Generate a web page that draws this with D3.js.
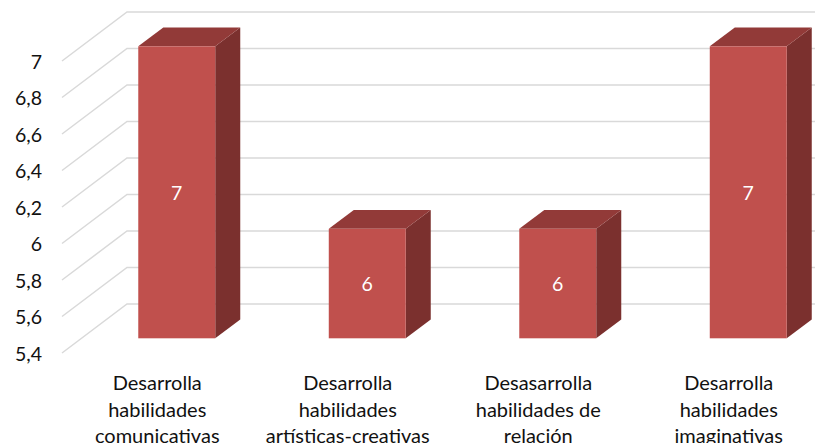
<!DOCTYPE html>
<html>
<head>
<meta charset="utf-8">
<script src="https://cdn.jsdelivr.net/npm/d3@7"></script>
<style>
  html, body { margin: 0; padding: 0; background: #ffffff; }
  svg { display: block; }
</style>
</head>
<body>
<svg id="chart" width="815" height="443"></svg>
<script>
// ---- Data ----
const categories = [
  "Desarrolla habilidades comunicativas",
  "Desarrolla habilidades artísticas-creativas",
  "Desasarrolla habilidades de relación",
  "Desarrolla habilidades imaginativas"
];
const categoryLines = [
  ["Desarrolla", "habilidades", "comunicativas"],
  ["Desarrolla", "habilidades", "artísticas-creativas"],
  ["Desasarrolla", "habilidades de", "relación"],
  ["Desarrolla", "habilidades", "imaginativas"]
];
const values = [7, 6, 6, 7];
const yTicks = [5.4, 5.6, 5.8, 6, 6.2, 6.4, 6.6, 6.8, 7];

// ---- Layout ----
const W = 815, H = 443;
const svg = d3.select("#chart");
const plotLeft = 62, band = 190.5;
const depth = { x: 65, y: -49 };   // back wall offset
const t1 = 0.3, t2 = 0.685;         // bar front / back depth fractions

const x = d3.scaleBand()
  .domain(categories)
  .range([plotLeft, plotLeft + band * categories.length])
  .padding(0);
const y = d3.scaleLinear().domain([5.4, 7]).range([353, 61]);
const barW = x.bandwidth() * 0.404;

const fmt = v => d3.format(".1~f")(v).replace(".", ",");

// ---- Gridlines (side wall diagonal + back wall horizontal) ----
const grid = svg.append("g").attr("fill", "none").attr("stroke", "#D9D9D9").attr("stroke-width", 1.5);
grid.selectAll("path").data(yTicks).join("path")
  .attr("d", v => {
    const y0 = y(v);
    return `M${plotLeft},${y0} L${plotLeft + depth.x},${y0 + depth.y} L${W + 5},${y0 + depth.y}`;
  });

// ---- Y tick labels ----
svg.append("g").selectAll("text").data(yTicks).join("text")
  .attr("x", 42)
  .attr("y", v => y(v))
  .attr("text-anchor", "end")
  .attr("dominant-baseline", "central")
  .attr("font-family", "Lato, 'Open Sans', sans-serif")
  .attr("font-size", 19.5)
  .attr("fill", "#111")
  .text(fmt);

// ---- 3D bars ----
const bars = svg.append("g");
categories.forEach((c, i) => {
  const v = values[i];
  const cx = x(c) + x.bandwidth() / 2;
  const fx0 = cx - barW / 2 + depth.x * t1, fx1 = fx0 + barW;
  const fyTop = y(v) + depth.y * t1, fyBot = y(5.4) + depth.y * t1;
  const dx = depth.x * (t2 - t1), dy = depth.y * (t2 - t1);
  const g = bars.append("g");
  // side face
  g.append("path")
    .attr("d", `M${fx1},${fyTop} L${fx1 + dx},${fyTop + dy} L${fx1 + dx},${fyBot + dy} L${fx1},${fyBot} Z`)
    .attr("fill", "#7B302E");
  // top face
  g.append("path")
    .attr("d", `M${fx0},${fyTop} L${fx0 + dx},${fyTop + dy} L${fx1 + dx},${fyTop + dy} L${fx1},${fyTop} Z`)
    .attr("fill", "#923A38");
  // front face
  g.append("rect")
    .attr("x", fx0).attr("y", fyTop)
    .attr("width", barW).attr("height", fyBot - fyTop)
    .attr("fill", "#C0504D");
  // data label
  g.append("text")
    .attr("x", (fx0 + fx1) / 2)
    .attr("y", (fyTop + fyBot) / 2)
    .attr("text-anchor", "middle")
    .attr("dominant-baseline", "central")
    .attr("font-family", "Lato, 'Open Sans', sans-serif")
    .attr("font-size", 19.5)
    .attr("fill", "#ffffff")
    .text(v);
});

// ---- Category labels ----
const cat = svg.append("g");
categories.forEach((c, i) => {
  const cx = x(c) + x.bandwidth() / 2;
  cat.append("text")
    .attr("text-anchor", "middle")
    .attr("font-family", "Lato, 'Open Sans', sans-serif")
    .attr("font-size", 20)
    .attr("fill", "#111")
    .selectAll("tspan").data(categoryLines[i]).join("tspan")
    .attr("x", cx)
    .attr("y", (d, j) => 382 + j * 26.5)
    .attr("dominant-baseline", "central")
    .text(d => d);
});
</script>
</body>
</html>
